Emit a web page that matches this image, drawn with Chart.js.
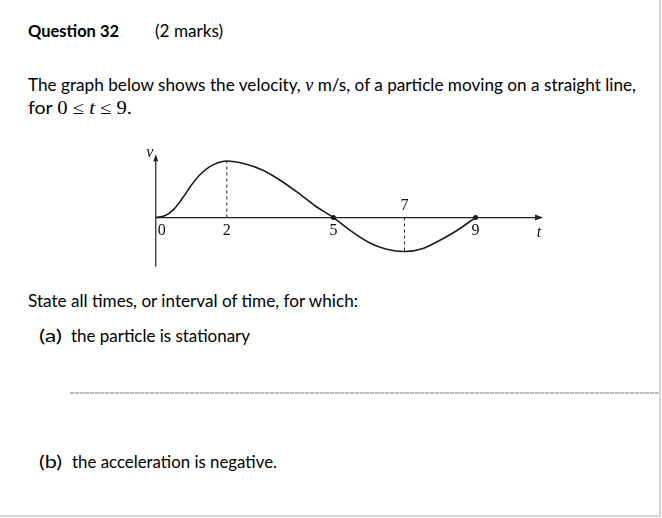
<!DOCTYPE html>
<html>
<head>
<meta charset="utf-8">
<title>Question 32</title>
<script src="https://cdn.jsdelivr.net/npm/chart.js"></script>
<style>
  html, body { margin: 0; padding: 0; background: #fff; }
  body { width: 662px; height: 518px; position: relative; overflow: hidden; font-family: Lato, "Open Sans", sans-serif; font-size: 17px; color: #000; }
  .page { position: absolute; left: 0; top: 0; width: 659px; height: 515px; border-right: 2px solid #d6d6d6; border-bottom: 2px solid #d6d6d6; }
  .t { position: absolute; white-space: nowrap; line-height: 1; transform-origin: 0 0; }
  .m { font-family: "Liberation Serif", "DejaVu Serif", serif; font-size: 18px; }
  .m i { font-style: italic; }
  .rule { position: absolute; left: 70px; top: 392px; width: 590px; height: 2px;
          background: repeating-linear-gradient(to right, #bdbdbd 0 4px, #e6e6e6 4px 5px); }
  #chartBox { position: absolute; left: 140px; top: 140px; width: 420px; height: 140px; }
</style>
</head>
<body>
<div class="page"></div>

<div class="t" style="left:28px; top:22px; font-weight:bold;" data-w="91">Question 32</div>
<div class="t" style="left:155px; top:22px;" data-w="68">(2 marks)</div>

<div class="t" style="left:28px; top:76px;" data-w="608">The graph below shows the velocity, <span class="m"><i>v</i></span> m/s, of a particle moving on a straight line,</div>
<div class="t" style="left:28px; top:99px;" data-w="104">for <span class="m">0 ≤ <i>t</i> ≤ 9.</span></div>

<div class="t" style="left:28px; top:292px;" data-w="330">State all times, or interval of time, for which:</div>
<div class="t" style="left:39px; top:327px;" data-w="23">(a)</div>
<div class="t" style="left:71px; top:327px;" data-w="179">the particle is stationary</div>

<div class="rule"></div>

<div class="t" style="left:39px; top:453px;" data-w="23">(b)</div>
<div class="t" style="left:72px; top:453px;" data-w="205">the acceleration is negative.</div>

<div id="chartBox"><canvas id="velocityChart"></canvas></div>

<script>
  // Valores (t en s, v en m/s)
  const times    = [0, 0.25, 0.5, 0.75, 1, 1.25, 1.5, 1.75, 2, 2.5, 3, 3.5, 4, 4.5, 5, 5.5, 6, 6.5, 7, 7.5, 8, 8.5, 9];
  const velocity = [0, 0.15, 0.7, 1.7, 2.85, 3.8, 4.45, 4.85, 5, 4.75, 4.2, 3.3, 2.2, 1.0, 0, -1.2, -2.2, -2.8, -3, -2.75, -2.0, -1.1, 0];
  const tickTimes  = [0, 2, 5, 7, 9];
  const tickLabels = ['0', '2', '5', '7', '9'];
  const dotTimes   = [5, 9];
  const dashTimes  = [2, 7];

  // Ajustar el ancho del texto al del original
  document.querySelectorAll('[data-w]').forEach(function (el) {
    const w = el.getBoundingClientRect().width;
    el.style.transform = 'scaleX(' + (parseFloat(el.dataset.w) / w) + ')';
  });

  function vAt(t) { return velocity[times.indexOf(t)]; }

  // Ejes, líneas punteadas y etiquetas dibujados con las escalas
  const axesPlugin = {
    id: 'axes',
    beforeDatasetsDraw(chart) {
      const ctx = chart.ctx, x = chart.scales.x, y = chart.scales.y;
      const x0 = x.getPixelForValue(0), y0 = y.getPixelForValue(0);
      const xEnd = x.getPixelForValue(10.9);
      const yTop = y.getPixelForValue(5.6), yBot = y.getPixelForValue(-4.35);
      ctx.save();
      ctx.strokeStyle = '#222';
      ctx.fillStyle = '#222';
      ctx.lineWidth = 1.2;
      ctx.beginPath();
      ctx.moveTo(x0, y0); ctx.lineTo(xEnd - 2, y0);
      ctx.moveTo(x0, yBot); ctx.lineTo(x0, yTop + 2);
      ctx.stroke();
      // flechas
      ctx.beginPath();
      ctx.moveTo(xEnd, y0); ctx.lineTo(xEnd - 8, y0 - 3); ctx.lineTo(xEnd - 8, y0 + 3); ctx.closePath();
      ctx.fill();
      ctx.beginPath();
      ctx.moveTo(x0, yTop); ctx.lineTo(x0 - 2.5, yTop + 7); ctx.lineTo(x0 + 2.5, yTop + 7); ctx.closePath();
      ctx.fill();
      // líneas verticales punteadas
      ctx.setLineDash([3, 3]);
      ctx.lineWidth = 1;
      dashTimes.forEach(function (t) {
        const px = x.getPixelForValue(t);
        ctx.beginPath();
        ctx.moveTo(px, y0);
        ctx.lineTo(px, y.getPixelForValue(vAt(t)));
        ctx.stroke();
      });
      ctx.setLineDash([]);
      // etiquetas
      ctx.fillStyle = '#111';
      ctx.font = '16px "Liberation Serif", serif';
      ctx.textAlign = 'center';
      ctx.textBaseline = 'middle';
      tickTimes.forEach(function (t, i) {
        let px = x.getPixelForValue(t), py = y0 + 13;
        if (t === 0) px += 6;
        if (t > 5 && t < 9) py = y0 - 12;
        ctx.fillText(tickLabels[i], px, py);
      });
      ctx.font = 'italic 16px "Liberation Serif", serif';
      ctx.fillText('t', xEnd - 4, y0 + 15);
      ctx.fillText('v', x0 - 6, yTop - 1);
      ctx.restore();
    }
  };

  new Chart(document.getElementById('velocityChart'), {
    type: 'line',
    data: {
      datasets: [{
        data: times.map(function (t, i) { return { x: t, y: velocity[i] }; }),
        borderColor: '#1a1a1a',
        borderWidth: 1.6,
        cubicInterpolationMode: 'monotone',
        fill: false,
        pointRadius: times.map(function (t) { return dotTimes.includes(t) ? 2.5 : 0; }),
        pointBackgroundColor: '#1a1a1a',
        pointBorderWidth: 0
      }]
    },
    options: {
      responsive: true,
      maintainAspectRatio: false,
      animation: false,
      layout: { padding: 0 },
      plugins: { legend: { display: false }, tooltip: { enabled: false } },
      scales: {
        x: { type: 'linear', min: -0.331, max: 11.265, display: false },
        y: { type: 'linear', min: -5.167, max: 6.5, display: false }
      }
    },
    plugins: [axesPlugin]
  });
</script>
</body>
</html>
